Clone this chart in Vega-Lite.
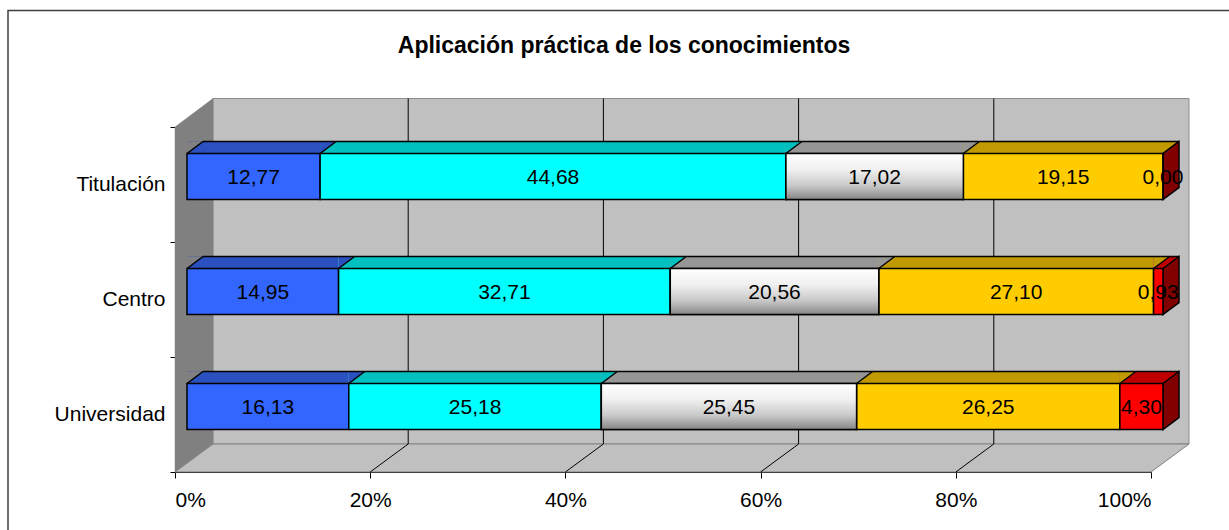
{
  "$schema": "https://vega.github.io/schema/vega-lite/v6.json",
  "width": 976,
  "height": 345,
  "autosize": {"type": "none"},
  "padding": {"left": 175, "top": 127, "right": 78, "bottom": 58},
  "background": "white",
  "title": {
    "text": "Aplicación práctica de los conocimientos",
    "font": "Liberation Sans",
    "fontSize": 23,
    "fontWeight": "bold",
    "color": "#000000",
    "anchor": "middle",
    "frame": "group",
    "dx": -39,
    "baseline": "alphabetic",
    "offset": -68
  },
  "config": {
    "font": "Liberation Sans",
    "view": {"stroke": null},
    "locale": {"number": {"decimal": ",", "thousands": ".", "grouping": [3], "currency": ["", " €"]}},
    "axis": {
      "domainColor": "#000000",
      "tickColor": "#000000",
      "labelColor": "#000000",
      "labelFont": "Liberation Sans",
      "labelFontSize": 21,
      "grid": false,
      "zindex": 1,
      "domainWidth": 1,
      "tickWidth": 1
    }
  },
  "data": {
    "values": [
      {"region": "Titulación", "seg": 1, "value": 12.77},
      {"region": "Titulación", "seg": 2, "value": 44.68},
      {"region": "Titulación", "seg": 3, "value": 17.02},
      {"region": "Titulación", "seg": 4, "value": 19.15},
      {"region": "Titulación", "seg": 5, "value": 0.00},
      {"region": "Centro", "seg": 1, "value": 14.95},
      {"region": "Centro", "seg": 2, "value": 32.71},
      {"region": "Centro", "seg": 3, "value": 20.56},
      {"region": "Centro", "seg": 4, "value": 27.10},
      {"region": "Centro", "seg": 5, "value": 0.93},
      {"region": "Universidad", "seg": 1, "value": 16.13},
      {"region": "Universidad", "seg": 2, "value": 25.18},
      {"region": "Universidad", "seg": 3, "value": 25.45},
      {"region": "Universidad", "seg": 4, "value": 26.25},
      {"region": "Universidad", "seg": 5, "value": 4.30}
    ]
  },
  "transform": [
    {"stack": "value", "groupby": ["region"], "sort": [{"field": "seg", "order": "ascending"}], "offset": "normalize", "as": ["x0", "x1"]}
  ],
  "layer": [
    {
      "data": {"values": [{}]},
      "mark": {"type": "point", "shape": "M-167,360V-174H1070", "size": 4, "filled": false, "stroke": "#404040", "strokeWidth": 1.5, "opacity": 1},
      "encoding": {
        "x": {"datum": 0, "type": "quantitative", "scale": {"domain": [0, 1], "nice": false, "zero": true}},
        "y": {"datum": "Titulación", "type": "nominal", "scale": {"type": "band", "domain": ["Titulación", "Centro", "Universidad"], "paddingInner": 0, "paddingOuter": 0}}
      }
    },
    {
      "data": {"values": [{}]},
      "mark": {"type": "point", "shape": "M38,-86H1014V259.5H38Z", "size": 4, "filled": true, "fill": "#C0C0C0", "stroke": "#8C8C8C", "strokeWidth": 1, "opacity": 1},
      "encoding": {
        "x": {"datum": 0, "type": "quantitative"},
        "y": {"datum": "Titulación", "type": "nominal"}
      }
    },
    {
      "data": {"values": [{}]},
      "mark": {"type": "point", "shape": "M0,-57.5L38,-86V259.5L0,287.5Z", "size": 4, "filled": true, "fill": "#808080", "stroke": "#808080", "strokeWidth": 0.5, "opacity": 1},
      "encoding": {
        "x": {"datum": 0, "type": "quantitative"},
        "y": {"datum": "Titulación", "type": "nominal"}
      }
    },
    {
      "data": {"values": [{}]},
      "mark": {"type": "point", "shape": "M0,287.5L38,259.5H1014L976,287.5Z", "size": 4, "filled": true, "fill": "#C0C0C0", "stroke": "#808080", "strokeWidth": 1, "opacity": 1},
      "encoding": {
        "x": {"datum": 0, "type": "quantitative"},
        "y": {"datum": "Titulación", "type": "nominal"}
      }
    },
    {
      "data": {"values": [{"g": 0.2}, {"g": 0.4}, {"g": 0.6}, {"g": 0.8}]},
      "mark": {"type": "point", "shape": "M38,-86V259.5M0,287.5L38,259.5", "size": 4, "filled": false, "stroke": "#000000", "strokeWidth": 1, "opacity": 1},
      "encoding": {
        "x": {"field": "g", "type": "quantitative", "title": null},
        "y": {"datum": "Titulación", "type": "nominal"}
      }
    },
    {
      "mark": {"type": "bar", "height": 12, "yOffset": -37, "xOffset": 12, "x2Offset": 12},
      "encoding": {
        "x": {"field": "x0", "type": "quantitative", "title": null},
        "x2": {"field": "x1"},
        "y": {"field": "region", "type": "nominal", "title": null},
        "color": {"field": "seg", "type": "nominal", "scale": {"domain": [1, 2, 3, 4, 5], "range": ["#2B50C0", "#00C0C0", "#969696", "#C09A00", "#C00000"]}, "legend": null}
      }
    },
    {
      "mark": {"type": "point", "shape": "M0,-31V-43H16Z", "size": 4, "filled": true, "xOffset": 12, "opacity": 1, "strokeWidth": 0},
      "encoding": {
        "x": {"field": "x1", "type": "quantitative", "title": null},
        "y": {"field": "region", "type": "nominal", "title": null},
        "color": {"field": "seg", "type": "nominal", "legend": null},
        "order": {"field": "seg", "sort": "descending"}
      }
    },
    {
      "transform": [{"filter": "datum.seg == 1"}],
      "mark": {"type": "point", "shape": "M0,-31V-43H16Z", "size": 4, "filled": true, "fill": "#808080", "xOffset": 12, "opacity": 1, "strokeWidth": 0},
      "encoding": {
        "x": {"field": "x0", "type": "quantitative", "title": null},
        "y": {"field": "region", "type": "nominal", "title": null}
      }
    },
    {
      "mark": {"type": "point", "shape": "M0,-31L16,-43", "size": 4, "filled": false, "stroke": "#000000", "strokeWidth": 1.5, "xOffset": 12, "opacity": 1},
      "encoding": {
        "x": {"field": "x0", "type": "quantitative", "title": null},
        "y": {"field": "region", "type": "nominal", "title": null}
      }
    },
    {
      "mark": {"type": "rule", "color": "#000000", "strokeWidth": 1.5, "xOffset": 28, "x2Offset": 28, "yOffset": -43},
      "encoding": {
        "x": {"field": "x0", "type": "quantitative", "title": null},
        "x2": {"field": "x1"},
        "y": {"field": "region", "type": "nominal", "title": null}
      }
    },
    {
      "transform": [{"filter": "datum.seg == 5"}],
      "mark": {"type": "point", "shape": "M0,-31L16,-43V3L0,15Z", "size": 4, "filled": true, "fill": "#800000", "stroke": "#000000", "strokeWidth": 1.5, "xOffset": 12, "opacity": 1},
      "encoding": {
        "x": {"field": "x1", "type": "quantitative", "title": null},
        "y": {"field": "region", "type": "nominal", "title": null}
      }
    },
    {
      "mark": {"type": "bar", "height": 46, "yOffset": -8, "xOffset": 12, "x2Offset": 12, "stroke": "#000000", "strokeWidth": 1.5},
      "encoding": {
        "x": {"field": "x0", "type": "quantitative", "title": null, "axis": {"values": [0, 0.2, 0.4, 0.6, 0.8, 1], "format": ".0%", "title": null, "tickSize": 6, "labelPadding": 11}},
        "x2": {"field": "x1"},
        "y": {"field": "region", "type": "nominal", "title": null, "axis": {"title": null, "tickBand": "extent", "tickSize": 5, "labelPadding": 5}},
        "fill": {"field": "seg", "type": "nominal", "scale": {"domain": [1, 2, 3, 4, 5], "range": ["#3366FF", "#00FFFF", "#DDDDDD", "#FFCC00", "#FF0000"]}, "legend": null}
      }
    },
    {
      "transform": [{"filter": "datum.seg == 3"}],
      "mark": {
        "type": "bar", "height": 46, "yOffset": -8, "xOffset": 12, "x2Offset": 12, "stroke": "#000000", "strokeWidth": 1.5,
        "fill": {"gradient": "linear", "x1": 0, "y1": 0, "x2": 0, "y2": 1, "stops": [
          {"offset": 0, "color": "#FFFFFF"},
          {"offset": 0.35, "color": "#F0F0F0"},
          {"offset": 0.7, "color": "#C8C8C8"},
          {"offset": 1, "color": "#858585"}
        ]}
      },
      "encoding": {
        "x": {"field": "x0", "type": "quantitative", "title": null},
        "x2": {"field": "x1"},
        "y": {"field": "region", "type": "nominal", "title": null}
      }
    },
    {
      "mark": {"type": "text", "fontSize": 21, "font": "Liberation Sans", "color": "#000000", "dx": 12, "dy": -7, "baseline": "middle", "align": "center"},
      "encoding": {
        "x": {"field": "value", "type": "quantitative", "stack": "normalize", "bandPosition": 0.5, "title": null},
        "y": {"field": "region", "type": "nominal", "title": null},
        "detail": {"field": "seg"},
        "order": {"field": "seg", "sort": "ascending"},
        "text": {"field": "value", "type": "quantitative", "format": ".2f"}
      }
    }
  ]
}
